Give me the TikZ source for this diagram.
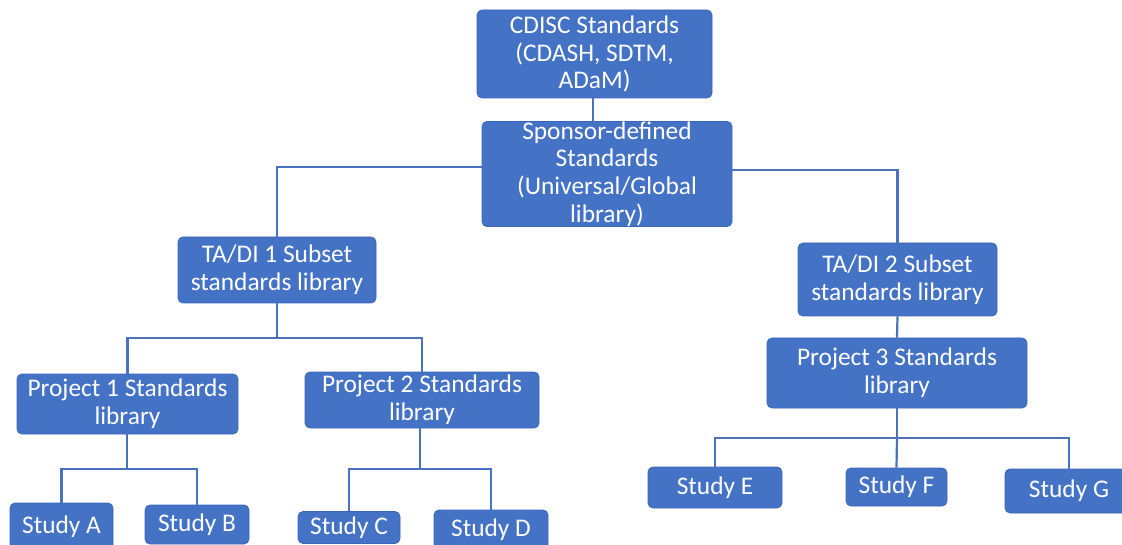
\documentclass[tikz,border=0pt]{standalone}
\usepackage{fontspec}
\setmainfont{Carlito}
\definecolor{boxblue}{HTML}{4472C4}
\definecolor{boxedge}{HTML}{3A66B8}
\definecolor{linkblue}{HTML}{4A72BE}
\begin{document}
\begin{tikzpicture}[x=1pt,y=-1pt,
  box/.style={rectangle, rounded corners=5pt, fill=boxblue, draw=boxedge, line width=0.8pt,
    text=white, align=center, inner sep=0pt, font=\fontsize{25.4}{27.8}\selectfont},
  link/.style={draw=linkblue, line width=2.2pt}]
\useasboundingbox (0,0) rectangle (1122,545);
% nodes
\node[box, minimum width=235pt, minimum height=88pt] (cdisc) at (594.5,54) {CDISC Standards\\(CDASH, SDTM,\\ADaM)};
\node[box, minimum width=250pt, minimum height=104pt] (sponsor) at (607,174) {Sponsor-defined\\Standards\\(Universal/Global\\library)};
\node[box, minimum width=198pt, minimum height=66pt] (ta1) at (277,270) {TA/DI 1 Subset\\standards library};
\node[box, minimum width=199pt, minimum height=73pt] (ta2) at (897.5,279.5) {TA/DI 2 Subset\\standards library};
\node[box, minimum width=221pt, minimum height=60pt] (p1) at (127.5,404) {Project 1 Standards\\library};
\node[box, minimum width=234pt, minimum height=56pt] (p2) at (422,400) {Project 2 Standards\\library};
\node[box, minimum width=260pt, minimum height=70pt] (p3) at (897,373) {Project 3 Standards\\library};
\node[box, minimum width=103pt, minimum height=48pt] (sa) at (61.5,527) {Study A};
\node[box, minimum width=104pt, minimum height=39pt] (sb) at (197,524.5) {Study B};
\node[box, minimum width=102pt, minimum height=32pt] (sc) at (349,527.5) {Study C};
\node[box, minimum width=114pt, minimum height=40pt] (sd) at (491,530) {Study D};
\node[box, minimum width=134pt, minimum height=41pt] (se) at (715,487.5) {Study E};
\node[box, minimum width=101pt, minimum height=38pt] (sf) at (896.5,487) {Study F};
\node[box, minimum width=128pt, minimum height=44pt] (sg) at (1069,491) {Study G};
% junctions
\coordinate (j1) at (277,338);
\coordinate (jp1) at (127,469);
\coordinate (jp2) at (420,469);
\coordinate (jp3) at (897,438);
% connectors
\draw[link] (cdisc.south -| 593,0) -- (sponsor.north -| 593,0);
\draw[link] ([yshift=7pt]sponsor.west) -| (ta1.north);
\draw[link] ([yshift=4pt]sponsor.east) -| (ta2.north);
\draw[link] (ta2.south) -- (p3.north);
\draw[link] (ta1.south) -- (j1);
\draw[link] (p1.north) |- (j1) -| (p2.north);
\draw[link] (p1.south -| jp1) -- (jp1);
\draw[link] (sa.north) |- (jp1) -| (sb.north);
\draw[link] (p2.south -| jp2) -- (jp2);
\draw[link] (sc.north) |- (jp2) -| (sd.north);
\draw[link] (p3.south) -- (jp3);
\draw[link] (se.north) |- (jp3) -| (sg.north);
\draw[link] (jp3) -- (sf.north);
\end{tikzpicture}
\end{document}
